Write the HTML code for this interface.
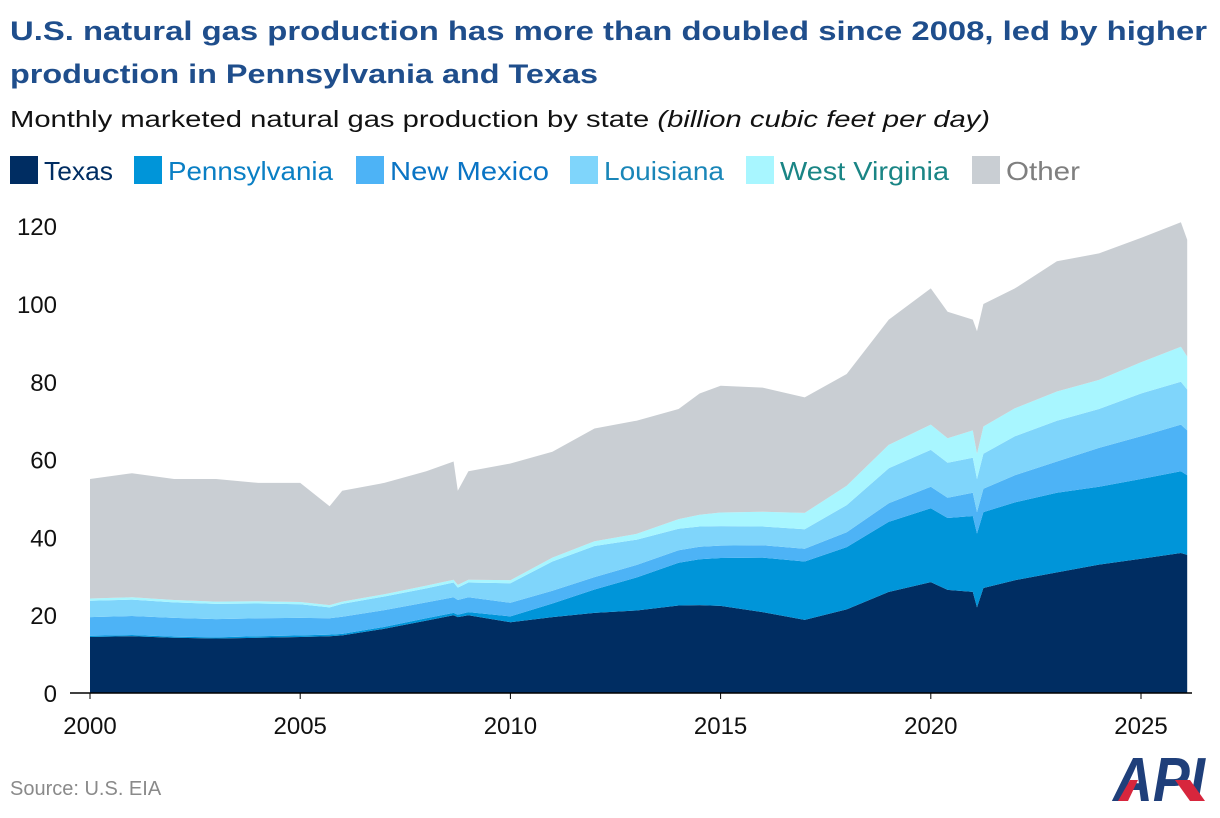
<!DOCTYPE html>
<html><head><meta charset="utf-8"><style>
body{margin:0;background:#fff;width:1220px;height:818px;overflow:hidden}
svg{display:block;font-family:"Liberation Sans",sans-serif}
</style></head><body>
<svg id="chart" width="1220" height="818" viewBox="0 0 1220 818">
<text x="10" y="40" font-size="27" font-weight="bold" fill="#1f4e8c" textLength="1197" lengthAdjust="spacingAndGlyphs">U.S. natural gas production has more than doubled since 2008, led by higher</text>
<text x="10" y="83" font-size="27" font-weight="bold" fill="#1f4e8c" textLength="588" lengthAdjust="spacingAndGlyphs">production in Pennsylvania and Texas</text>
<text x="10" y="127" font-size="23" fill="#111" textLength="980" lengthAdjust="spacingAndGlyphs">Monthly marketed natural gas production by state <tspan font-style="italic">(billion cubic feet per day)</tspan></text>
<g id="legend"></g>
<g id="plot"></g>
<g id="axes"></g>
<text x="10" y="795" font-size="20" fill="#8a8a8a">Source: U.S. EIA</text>
<g>
<text x="1113" y="801" font-size="62" font-weight="bold" font-style="italic" fill="#1f3f7a" textLength="92" lengthAdjust="spacingAndGlyphs">API</text>
<path d="M1118 801 L1130 780 L1138 780 L1128 801Z" fill="#d7263d"/>
<path d="M1175 780 L1190 780 L1205 801 L1190 801Z" fill="#d7263d"/>
</g>
</svg>
<script>
const dates=[2000,2001,2002,2003,2004,2005,2005.7,2006,2007,2008,2008.65,2008.75,2009,2010,2011,2012,2013,2014,2014.5,2015,2016,2017,2018,2019,2020,2020.4,2021,2021.1,2021.25,2022,2023,2024,2025,2025.95,2026.1];
const texas=[14.4,14.6,14.2,14,14.2,14.4,14.6,14.8,16.5,18.6,20,19.5,20,18.2,19.5,20.6,21.2,22.5,22.6,22.4,20.8,18.8,21.5,26,28.5,26.5,26,22,27,29,31,33,34.5,36,35.5];
const pennsylvania=[0.3,0.3,0.3,0.3,0.4,0.4,0.4,0.4,0.5,0.6,0.6,0.6,0.8,1.5,3.5,6,8.5,11,11.8,12.3,14,15,16,18,19,18.5,19.5,19,19.5,20,20.5,20,20.5,21,20.5];
const newMexico=[4.8,4.9,4.8,4.7,4.6,4.5,4.2,4.4,4.3,4.1,4,3.8,3.8,3.5,3.3,3.2,3.2,3.2,3.2,3.2,3.2,3.3,3.8,4.8,5.5,5.2,6,5.5,6,7,8,10,11,12,11.5];
const louisiana=[4.2,4.2,4,3.9,3.8,3.5,2.8,3.3,3.5,3.6,3.8,3.2,3.8,5,7.5,8,6.5,5.5,5.2,5,4.8,5,7,9,9.5,9,9,8.5,9,10,10.5,10,11,11,10.5];
const westVirginia=[0.6,0.6,0.6,0.6,0.6,0.6,0.6,0.6,0.6,0.7,0.7,0.7,0.7,0.8,1,1.2,1.5,2.5,3,3.5,3.8,4.2,5,6,6.5,6.3,7,6.5,7,7.2,7.5,7.5,8,9,8.5];
const other=[30.7,31.9,31.1,31.5,30.4,30.6,25.4,28.5,28.6,29.4,30.4,24.2,27.9,30,27.2,29,29.1,28.3,31.2,32.6,31.9,29.7,28.7,32.2,35,32.5,28.5,31.5,31.5,30.8,33.5,32.5,32,32,30];
const seriesNames=["Texas","Pennsylvania","New Mexico","Louisiana","West Virginia","Other"];
const yTicks=[0,20,40,60,80,100,120];
const xTicks=[2000,2005,2010,2015,2020,2025];

const NS="http://www.w3.org/2000/svg";
const x=d=>90+(d-2000)*42.04;
const y=v=>693-v*3.89;
const fills=["#002d62","#0095d9","#4db3f6","#7fd5fb","#a8f6ff","#c9ced3"];
const textCols=["#002d62","#0a7fc4","#0a74c4","#1a86b8","#1a8585","#7f7f7f"];
const series=[texas,pennsylvania,newMexico,louisiana,westVirginia,other];
const plot=document.getElementById('plot');
let base=dates.map(()=>0);
series.forEach((s,i)=>{
  const top=base.map((b,j)=>b+s[j]);
  let d="M"+dates.map((t,j)=>x(t).toFixed(1)+" "+y(top[j]).toFixed(1)).join(" L");
  for(let j=dates.length-1;j>=0;j--) d+=" L"+x(dates[j]).toFixed(1)+" "+y(base[j]).toFixed(1);
  d+="Z";
  const p=document.createElementNS(NS,'path');
  p.setAttribute('d',d);p.setAttribute('fill',fills[i]);
  
  
  plot.appendChild(p);
  base=top;
});
const axes=document.getElementById('axes');
const line=document.createElementNS(NS,'line');
line.setAttribute('x1',70);line.setAttribute('x2',1192);line.setAttribute('y1',693);line.setAttribute('y2',693);
line.setAttribute('stroke','#000');line.setAttribute('stroke-width','1.5');


axes.appendChild(line);
yTicks.forEach(v=>{
  const t=document.createElementNS(NS,'text');
  t.setAttribute('x',57);t.setAttribute('y',y(v)+9);t.setAttribute('text-anchor','end');t.setAttribute('font-size','24');t.setAttribute('fill','#111');
  t.textContent=v;
  
  
  axes.appendChild(t);
});
xTicks.forEach(v=>{
  const t=document.createElementNS(NS,'text');
  t.setAttribute('x',x(v));t.setAttribute('y',734);t.setAttribute('text-anchor','middle');t.setAttribute('font-size','24');t.setAttribute('fill','#111');
  t.textContent=v;
  
  
  axes.appendChild(t);
  const k=document.createElementNS(NS,'line');
  k.setAttribute('x1',x(v));k.setAttribute('x2',x(v));k.setAttribute('y1',693);k.setAttribute('y2',699);k.setAttribute('stroke','#000');
  
  
  axes.appendChild(k);
});
const leg=document.getElementById('legend');
const sqX=[10,134,356,570,746,972];
const txW=[69,165,159,120,169,74];
seriesNames.forEach((n,i)=>{
  const g=document.createElementNS(NS,'g');
  
  
  const r=document.createElementNS(NS,'rect');
  r.setAttribute('x',sqX[i]);r.setAttribute('y',156);r.setAttribute('width',28);r.setAttribute('height',28);r.setAttribute('fill',fills[i]);
  g.appendChild(r);
  const t=document.createElementNS(NS,'text');
  t.setAttribute('x',sqX[i]+34);t.setAttribute('y',180);t.setAttribute('font-size','26');t.setAttribute('fill',textCols[i]);
  t.setAttribute('textLength',txW[i]);t.setAttribute('lengthAdjust','spacingAndGlyphs');
  t.textContent=n;
  g.appendChild(t);
  leg.appendChild(g);
});
</script>
</body></html>
